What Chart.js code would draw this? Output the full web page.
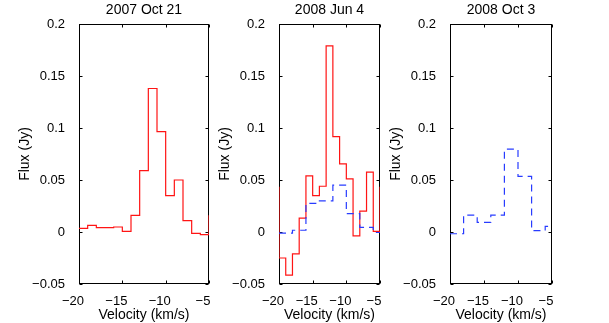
<!DOCTYPE html>
<html>
<head>
<meta charset="utf-8">
<script src="https://cdn.jsdelivr.net/npm/chart.js@4/dist/chart.umd.min.js"></script>
<style>
  body { margin: 0; background: #fff; }
  #wrap { position: relative; width: 609px; height: 323px; overflow: hidden; }
  #wrap canvas { position: absolute; top: 0; }
</style>
</head>
<body>
<div id="wrap">
  <canvas id="c1" width="220" height="323" style="left:0px"></canvas>
  <canvas id="c2" width="191" height="323" style="left:200px"></canvas>
  <canvas id="c3" width="192" height="323" style="left:371px"></canvas>
</div>
<script>
// panel titles
const titles = ['2007 Oct 21', '2008 Jun 4', '2008 Oct 3'];

// 2007 Oct 21, red stairs (1 km/s channels)
const oct07Vel  = [-20, -19, -18, -17, -16, -15, -14, -13, -12, -11, -10, -9, -8, -7, -6, -5, -4];
const oct07Flux = [0.0035, 0.0064, 0.0042, 0.0042, 0.0048, 0.0006, 0.016, 0.059, 0.138, 0.0965, 0.035, 0.050, 0.011, -0.0013, -0.0026, 0.016, 0.016];

// 2008 Jun 4, red stairs (1 km/s) and blue dashed (2 km/s)
const jun08Vel  = [-21, -20, -19, -18, -17, -16, -15, -14, -13, -12, -11, -10, -9, -8, -7, -6, -5, -4];
const jun08Flux = [0.043, -0.025, -0.0415, -0.021, 0.0134, 0.054, 0.035, 0.044, 0.179, 0.0917, 0.0655, 0.051, -0.0038, 0.020, 0.0575, 0.0006, 0.0435, 0.0435];
const jun08BinVel  = [-20, -18, -16, -14, -12, -10, -8, -6, -4];
const jun08BinFlux = [-0.001, 0.0017, 0.0275, 0.030, 0.045, 0.0177, 0.0045, -0.0005, -0.0005];

// 2008 Oct 3, blue dashed (2 km/s)
const oct08BinVel  = [-20, -18, -16, -14, -12, -10, -8, -6, -4];
const oct08BinFlux = [-0.0017, 0.0163, 0.0093, 0.0163, 0.0796, 0.0534, 0.0013, 0.0055, 0.0055];

// axes
const xTicks = [-20, -15, -10, -5];
const xTickLabels = ['\u221220', '\u221215', '\u221210', '\u22125'];
const yTicks = [-0.05, 0, 0.05, 0.1, 0.15, 0.2];
const yTickLabels = ['\u22120.05', '0', '0.05', '0.1', '0.15', '0.2'];

const FONT = "'Liberation Sans', Arial, Helvetica, sans-serif";
const RED = 'rgb(255,20,20)';
const BLUE = 'rgb(40,60,255)';

function pts(xs, ys) {
    return xs.map((x, i) => ({ x: x, y: ys[i] }));
}

function redSet(xs, ys) {
    return { data: pts(xs, ys), borderColor: RED, borderWidth: 1.2, stepped: true, pointRadius: 0, fill: false };
}

function blueSet(xs, ys) {
    return { data: pts(xs, ys), borderColor: BLUE, borderWidth: 1.2, borderDash: [7, 5], stepped: true, pointRadius: 0, fill: false };
}

// box round the plot with inward ticks on all four sides
const boxPlugin = {
    id: 'box',
    beforeDatasetsDraw(chart) {
        const { ctx, chartArea: a, scales } = chart;
        const L = Math.round(a.left) + 0.5, R = Math.round(a.right) - 0.5;
        const T = Math.round(a.top) + 0.5, B = Math.round(a.bottom) - 0.5;
        ctx.save();
        ctx.strokeStyle = '#000';
        ctx.lineWidth = 1;
        ctx.strokeRect(L, T, R - L, B - T);
        ctx.beginPath();
        yTicks.forEach(v => {
            const py = Math.round(scales.y.getPixelForValue(v)) + 0.5;
            ctx.moveTo(L, py); ctx.lineTo(L + 3, py);
            ctx.moveTo(R, py); ctx.lineTo(R - 3, py);
        });
        xTicks.forEach(v => {
            const px = Math.round(scales.x.getPixelForValue(v)) + 0.5;
            ctx.moveTo(px, B); ctx.lineTo(px, B - 3);
            ctx.moveTo(px, T); ctx.lineTo(px, T + 3);
        });
        ctx.stroke();
        ctx.restore();
    }
};

function makePanel(id, title, datasets) {
    const ctx = document.getElementById(id).getContext('2d');
    return new Chart(ctx, {
        type: 'line',
        data: { datasets: datasets },
        options: {
            responsive: false,
            animation: false,
            layout: { padding: { top: 0, right: 11, bottom: 0, left: 0 } },
            plugins: {
                legend: { display: false },
                tooltip: { enabled: false },
                title: {
                    display: true,
                    text: title,
                    fullSize: false,
                    color: '#000',
                    font: { family: FONT, size: 14, weight: 'normal' },
                    padding: { top: 1.5, bottom: 5.7 }
                }
            },
            scales: {
                x: {
                    type: 'linear',
                    min: -20,
                    max: -5,
                    afterBuildTicks: s => { s.ticks = xTicks.map(v => ({ value: v })); },
                    afterFit: s => { s.height = 39; },
                    grid: { display: false },
                    border: { display: false },
                    ticks: {
                        color: '#000',
                        padding: 2,
                        labelOffset: -6,
                        maxRotation: 0,
                        font: { family: FONT, size: 13 },
                        callback: (v, i) => xTickLabels[i]
                    },
                    title: {
                        display: true,
                        text: 'Velocity (km/s)',
                        color: '#000',
                        font: { family: FONT, size: 14 },
                        padding: { top: 0, bottom: -1 }
                    }
                },
                y: {
                    type: 'linear',
                    min: -0.05,
                    max: 0.2,
                    afterBuildTicks: s => { s.ticks = yTicks.map(v => ({ value: v })); },
                    afterFit: s => { s.width = 79; },
                    grid: { display: false },
                    border: { display: false },
                    ticks: {
                        color: '#000',
                        padding: 6,
                        font: { family: FONT, size: 13 },
                        callback: (v, i) => yTickLabels[i]
                    },
                    title: {
                        display: true,
                        text: 'Flux (Jy)',
                        color: '#000',
                        font: { family: FONT, size: 14 },
                        padding: { top: 16.5, bottom: 0 }
                    }
                }
            }
        },
        plugins: [boxPlugin]
    });
}

makePanel('c1', titles[0], [redSet(oct07Vel, oct07Flux)]);
makePanel('c2', titles[1], [blueSet(jun08BinVel, jun08BinFlux), redSet(jun08Vel, jun08Flux)]);
makePanel('c3', titles[2], [blueSet(oct08BinVel, oct08BinFlux)]);
</script>
</body>
</html>
